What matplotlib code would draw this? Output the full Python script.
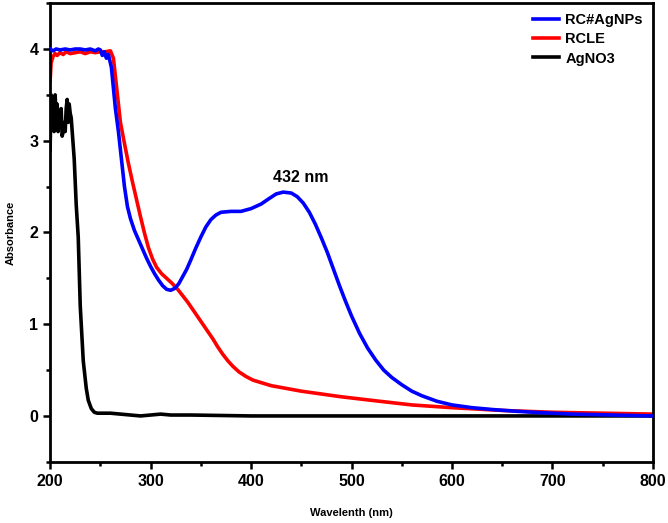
# ============================================================
# UV-Vis absorbance spectra
# ============================================================
import matplotlib.pyplot as plt
from matplotlib.ticker import MultipleLocator

plt.rcParams['font.family'] = ['Liberation Sans', 'DejaVu Sans']
plt.rcParams['font.weight'] = 'bold'

# RC#AgNPs (blue)
wl_np = [200, 203, 206, 210, 215, 220, 225, 230, 235, 240, 245, 248, 250, 252, 254, 256, 258,
         261, 265, 268, 271, 274, 277, 280, 284, 288, 292, 296, 300, 304, 308, 312, 316, 320,
         324, 328, 332, 336, 340, 345, 350, 355, 360, 365, 370, 380, 390, 400, 410, 418, 425,
         432, 440, 446, 452, 458, 464, 470, 476, 482, 488, 494, 500, 508, 516, 524, 532, 540,
         550, 560, 570, 585, 600, 620, 640, 665, 690, 720, 760, 800]
abs_np = [4.0, 3.98, 4.0, 3.99, 4.0, 3.99, 4.0, 4.0, 3.99, 4.0, 3.98, 4.0, 3.99, 3.93, 3.97, 3.9, 3.94,
          3.8, 3.35, 3.1, 2.8, 2.5, 2.28, 2.15, 2.02, 1.92, 1.82, 1.72, 1.63, 1.55, 1.48, 1.42, 1.38, 1.37,
          1.39, 1.44, 1.52, 1.6, 1.7, 1.83, 1.95, 2.06, 2.14, 2.19, 2.22, 2.23, 2.23, 2.26, 2.31, 2.37, 2.42,
          2.44, 2.43, 2.39, 2.32, 2.22, 2.09, 1.94, 1.78, 1.6, 1.42, 1.25, 1.09, 0.9, 0.74, 0.61, 0.5, 0.42,
          0.34, 0.27, 0.22, 0.16, 0.12, 0.09, 0.07, 0.05, 0.035, 0.02, 0.01, 0.0]

# RCLE (red)
wl_le = [200, 201, 203, 205, 207, 210, 213, 216, 220, 225, 230, 235, 240, 245, 250, 255, 260, 263,
         266, 270, 274, 278, 282, 286, 290, 294, 298, 302, 306, 311, 316, 321, 327, 332, 337, 342,
         347, 352, 357, 362, 367, 372, 377, 382, 388, 395, 402, 420, 450, 489, 520, 560, 600, 650,
         700, 750, 800]
abs_le = [3.65, 3.85, 3.92, 3.95, 3.93, 3.96, 3.94, 3.97, 3.95, 3.96, 3.97, 3.95, 3.97, 3.96, 3.97, 3.97, 3.98, 3.9,
          3.6, 3.2, 2.97, 2.75, 2.55, 2.36, 2.17, 1.99, 1.83, 1.71, 1.62, 1.55, 1.5, 1.45, 1.38, 1.31, 1.24, 1.16,
          1.08, 1.0, 0.92, 0.84, 0.75, 0.67, 0.6, 0.54, 0.48, 0.43, 0.39, 0.33, 0.27, 0.21, 0.17, 0.12, 0.09, 0.06,
          0.04, 0.03, 0.02]

# AgNO3 (black)
wl_ag = [200, 201, 202, 203, 204, 205, 206, 207, 208, 209, 210, 211, 212, 213, 214, 215, 216, 217,
         218, 219, 220, 221, 222, 224, 226, 228, 230, 233, 236, 238, 241, 244, 247, 250, 255, 260,
         270, 280, 290, 300, 310, 320, 340, 400, 500, 600, 700, 800]
abs_ag = [2.9, 3.5, 3.2, 3.45, 3.1, 3.5, 3.25, 3.4, 3.1, 3.3, 3.15, 3.35, 3.05, 3.1, 3.2, 3.1, 3.35, 3.45,
          3.2, 3.4, 3.3, 3.25, 3.1, 2.8, 2.3, 1.95, 1.2, 0.6, 0.3, 0.17, 0.08, 0.04, 0.03, 0.03, 0.03, 0.03,
          0.02, 0.01, 0.0, 0.01, 0.02, 0.01, 0.01, 0.0, 0.0, 0.0, 0.0, 0.0]

fig = plt.figure(figsize=(6.68, 5.23), dpi=100)
ax = fig.add_axes([0.075, 0.117, 0.9025, 0.877])

ax.plot(wl_np, abs_np, color='#0000ff', lw=2.6, label='RC#AgNPs', zorder=3)
ax.plot(wl_le, abs_le, color='#ff0000', lw=2.6, label='RCLE', zorder=2)
ax.plot(wl_ag, abs_ag, color='black', lw=2.6, label='AgNO3', zorder=1)

ax.text(449, 2.6, '432 nm', fontsize=11.5, fontweight='bold', ha='center', va='center')

ax.set_xlim(200, 800)
ax.set_ylim(-0.5, 4.5)
ax.xaxis.set_major_locator(MultipleLocator(100))
ax.xaxis.set_minor_locator(MultipleLocator(50))
ax.yaxis.set_major_locator(MultipleLocator(1))
ax.yaxis.set_minor_locator(MultipleLocator(0.5))
ax.tick_params(which='both', direction='out', width=1.8, labelsize=11.5, top=False, right=False)
ax.tick_params(which='major', length=5)
ax.tick_params(which='minor', length=3)
for lbl in ax.get_xticklabels() + ax.get_yticklabels():
    lbl.set_fontweight('bold')
for sp in ax.spines.values():
    sp.set_linewidth(2)

ax.set_xlabel('Wavelenth (nm)', fontsize=8, fontweight='bold', labelpad=14)
ax.set_ylabel('Absorbance', fontsize=8, fontweight='bold', labelpad=10)

leg = ax.legend(loc='upper right', frameon=False, fontsize=10.5, handlelength=1.8,
                handletextpad=0.4, labelspacing=0.35, borderaxespad=0.3)
for t in leg.get_texts():
    t.set_fontweight('bold')

fig.savefig('out.png', dpi=100)
